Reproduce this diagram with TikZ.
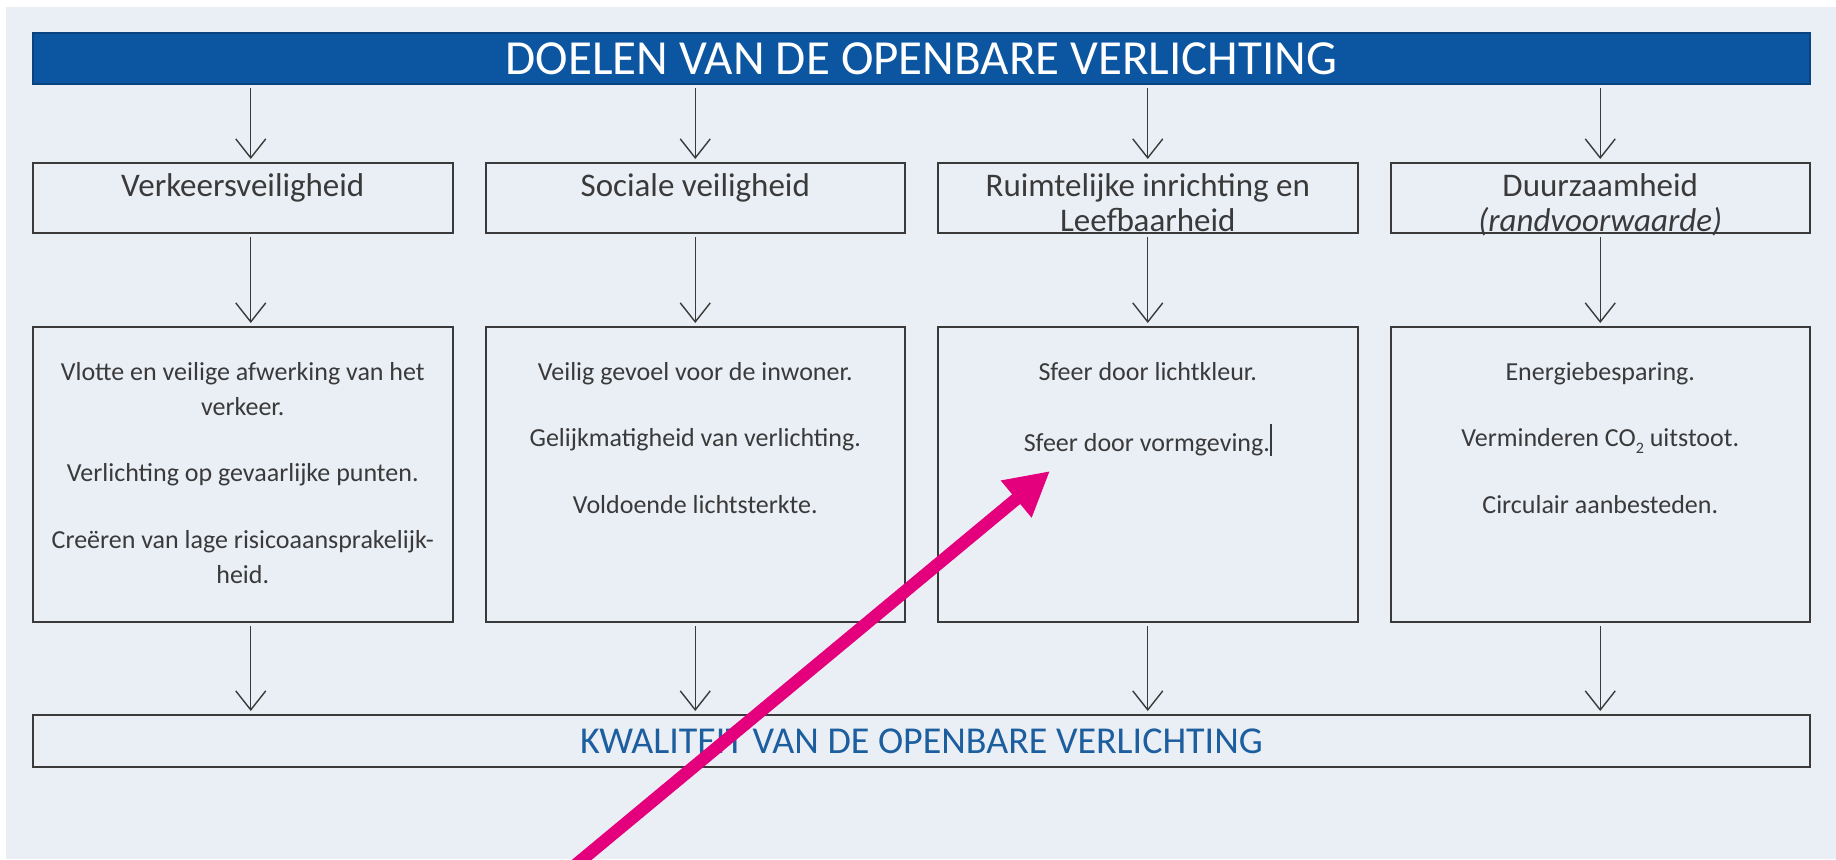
\documentclass[tikz,border=0pt]{standalone}
\usepackage{fontspec}
\setmainfont{Carlito}
\usepackage{xcolor}
\usepackage{tikz}
\usetikzlibrary{positioning,arrows.meta}
\definecolor{fondclair}{HTML}{EAEFF6}
\definecolor{bleutitre}{HTML}{0B55A1}
\definecolor{bleutexte}{HTML}{1C5E9E}
\definecolor{grisfonce}{HTML}{3A3A3A}
\definecolor{magentavif}{HTML}{E4007C}

\begin{document}
\begin{tikzpicture}
                \tikzset{
                  boite/.style={
                    fill=fondclair,draw=grisfonce,line width=1pt,
                    minimum width=209.75pt,inner sep=0pt,outer sep=0pt,
                    text=grisfonce,
                  },
                  boite haut/.style 2 args={
                    boite,
                    execute at begin node={\begin{minipage}[c][#1][t]{200pt}\centering\vspace*{#2}\strut},
                    execute at end node={\end{minipage}},
                  },
                  doel/.style={boite haut={35pt}{4.25pt},font=\fontsize{16.5}{17.5}\selectfont},
                  uitleg/.style={boite haut={147.5pt}{14.25pt},font=\fontsize{13}{17.5}\selectfont},
                  titre/.style={
                    fill=bleutitre,draw=bleutitre!80!black,line width=1pt,
                    minimum width=888.5pt,minimum height=25.5pt,inner sep=0pt,outer sep=0pt,
                    text=white,font=\fontsize{24.5}{26}\selectfont,
                  },
                  kwaliteit/.style={boite,minimum width=888.5pt,minimum height=26pt,
                    text=bleutexte,font=\fontsize{19}{21}\selectfont},
                  fleche/.style={
                    -{Straight Barb[length=9.5pt,width=15pt]},line width=0.7pt,
                    draw=grisfonce,shorten <=2pt,shorten >=2pt,
                  },
                  grosse fleche/.style={-{Triangle[length=22pt,width=22.5pt]},line width=6.3pt,draw=magentavif},
                  }
                \clip (0,0) rectangle (918pt,-429.5pt);
                \fill[white] (0,0) rectangle (918pt,-429.5pt);
                \fill[fondclair] (3pt,-3.5pt) rectangle (918pt,-429.5pt);

                \node[titre] (titre) at (460.75pt,-29.25pt) {DOELEN VAN DE OPENBARE VERLICHTING};

                \node[doel, below right=39.5pt and 0pt of titre.south west] (v) {Verkeersveiligheid};
                \node[doel, right=16.5pt of v] (s) {Sociale veiligheid};
                \node[doel, right=16.5pt of s] (r) {Ruimtelijke inrichting en\\Leefbaarheid};
                \node[doel, right=16.5pt of r] (d) {Duurzaamheid\\\textit{(randvoorwaarde)}};

                \node[uitleg, below=47pt of v] (v2) {Vlotte en veilige afwerking van het\\verkeer.\\[15.8pt]Verlichting op gevaarlijke punten.\\[15.8pt]Creëren van lage risicoaansprakelijk-\\heid.};
                \node[uitleg, below=47pt of s] (s2) {Veilig gevoel voor de inwoner.\\[15.8pt]Gelijkmatigheid van verlichting.\\[15.8pt]Voldoende lichtsterkte.};
                \node[uitleg, below=47pt of r] (r2) {Sfeer door lichtkleur.\\[15.8pt]Sfeer door vormgeving.\rule[-2.5pt]{0.9pt}{16pt}};
                \node[uitleg, below=47pt of d] (d2) {Energiebesparing.\\[15.8pt]Verminderen CO\raisebox{-3.5pt}{\fontsize{8}{8}\selectfont 2} uitstoot.\\[15.8pt]Circulair aanbesteden.};

                \node[kwaliteit, below right=46.5pt and 0pt of v2.south west] (k) {KWALITEIT VAN DE OPENBARE VERLICHTING};

                % van titel naar doelen
                \draw[fleche] ([xshift=4pt]v.north |- titre.south) -- ([xshift=4pt]v.north);
                \draw[fleche] (s.north |- titre.south) -- (s.north);
                \draw[fleche] (r.north |- titre.south) -- (r.north);
                \draw[fleche] (d.north |- titre.south) -- (d.north);
                % van doelen naar uitleg
                \draw[fleche] ([xshift=4pt]v.south) -- ([xshift=4pt]v2.north);
                \draw[fleche] (s.south) -- (s2.north);
                \draw[fleche] (r.south) -- (r2.north);
                \draw[fleche] (d.south) -- (d2.north);
                % van uitleg naar kwaliteit
                \draw[fleche] ([xshift=4pt]v2.south) -- ([xshift=4pt]v2.south |- k.north);
                \draw[fleche] (s2.south) -- (s2.south |- k.north);
                \draw[fleche] (r2.south) -- (r2.south |- k.north);
                \draw[fleche] (d2.south) -- (d2.south |- k.north);

                \coordinate (queue) at (279.7pt,-439.2pt);
                \coordinate (pointe) at (525pt,-235.5pt);
                \draw[grosse fleche] (queue) -- (pointe);
              \end{tikzpicture}
\end{document}
